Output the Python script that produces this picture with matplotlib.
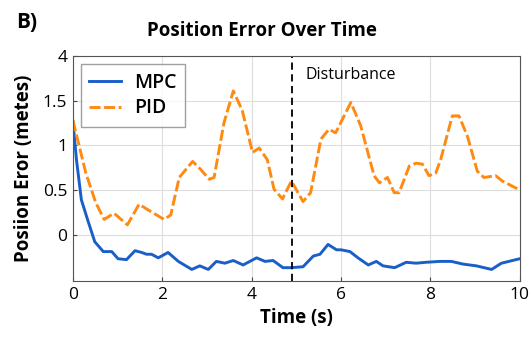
import matplotlib
matplotlib.use("Agg")
import matplotlib.pyplot as plt

pid_t = [0.0, 0.29, 0.51, 0.70, 0.92, 1.22, 1.48, 1.74, 2.04, 2.19, 2.38, 2.68, 2.86, 3.05, 3.16,
         3.38, 3.59, 3.79, 4.02, 4.17, 4.35, 4.50, 4.69, 4.89, 5.15, 5.32, 5.55, 5.73, 5.88, 6.22,
         6.44, 6.74, 6.86, 7.04, 7.19, 7.30, 7.53, 7.68, 7.82, 7.97, 8.12, 8.23, 8.49, 8.64, 8.83,
         9.05, 9.20, 9.46, 9.61, 10.0]
pid_v = [1.28, 0.69, 0.36, 0.17, 0.24, 0.11, 0.34, 0.26, 0.17, 0.22, 0.64, 0.82, 0.73, 0.62, 0.64,
         1.25, 1.61, 1.39, 0.92, 0.97, 0.84, 0.51, 0.40, 0.60, 0.37, 0.47, 1.07, 1.18, 1.14, 1.48,
         1.22, 0.66, 0.58, 0.64, 0.47, 0.47, 0.77, 0.80, 0.79, 0.66, 0.69, 0.84, 1.33, 1.33, 1.10,
         0.71, 0.64, 0.66, 0.60, 0.50]

mpc_t = [0.0, 0.08, 0.19, 0.34, 0.49, 0.68, 0.87, 1.01, 1.20, 1.39, 1.54, 1.65, 1.76, 1.91, 2.13,
         2.36, 2.66, 2.84, 3.03, 3.21, 3.40, 3.59, 3.81, 4.11, 4.30, 4.48, 4.70, 4.89, 5.15, 5.38,
         5.53, 5.71, 5.90, 6.00, 6.20, 6.38, 6.61, 6.79, 6.94, 7.20, 7.46, 7.68, 7.90, 8.21, 8.47,
         8.73, 9.03, 9.37, 9.59, 10.0]
mpc_v = [1.27, 0.84, 0.39, 0.15, -0.08, -0.19, -0.19, -0.27, -0.28, -0.18, -0.20, -0.22, -0.22, -0.26, -0.20,
         -0.30, -0.39, -0.35, -0.39, -0.30, -0.32, -0.29, -0.34, -0.26, -0.30, -0.29, -0.37, -0.37, -0.36, -0.24,
         -0.22, -0.11, -0.17, -0.17, -0.19, -0.26, -0.34, -0.30, -0.35, -0.37, -0.31, -0.32, -0.31, -0.30, -0.30,
         -0.33, -0.35, -0.39, -0.32, -0.27]

xticks = [0, 2, 4, 6, 8, 10]
yticks = [0, 0.5, 1.0, 1.5, 2.0]
ytick_labels = ["0", "0.5", "1", "1.5", "4"]
disturbance_t = 4.9

plt.rcParams['font.family'] = ['Open Sans', 'DejaVu Sans']

fig = plt.figure(figsize=(5.32, 3.44), dpi=100)
ax = fig.add_axes([0.137, 0.183, 0.840, 0.654])

ax.plot(mpc_t, mpc_v, color='#1a5fc8', lw=2.1, label='MPC')
ax.plot(pid_t, pid_v, color='#ff8a12', lw=2.1, linestyle=(0, (3.8, 1.2)), label='PID')
ax.axvline(disturbance_t, color='black', lw=1.3, linestyle=(0, (4, 2.5)))
ax.text(5.2, 1.79, 'Disturbance', fontsize=11.5, va='center', ha='left')

ax.set_xlim(0, 10)
ax.set_ylim(-0.52, 2.0)
ax.set_xticks(xticks)
ax.set_yticks(yticks)
ax.set_yticklabels(ytick_labels)
ax.tick_params(labelsize=12.5, direction='in', length=3, color='#444444', pad=4)
ax.grid(True, color='#dddddd', lw=0.8)
ax.set_axisbelow(True)
for s in ax.spines.values():
    s.set_color('#555555')

ax.set_xlabel('Time (s)', fontsize=13.5, fontweight='bold', labelpad=4)
ax.set_ylabel('Posiion Eror (metes)', fontsize=13.5, fontweight='bold', labelpad=6)

leg = ax.legend(loc='upper left', fontsize=14, frameon=True, fancybox=False,
                edgecolor='#888888', handlelength=1.6, borderaxespad=0.4,
                handletextpad=0.7, borderpad=0.45, labelspacing=0.3,
                prop={'size': 14, 'weight': 'semibold'})

fig.text(262 / 532, 1 - 31 / 344, 'Position Error Over Time', fontsize=13.5, fontweight='bold',
         ha='center', va='center')
fig.text(16 / 532, 1 - 23 / 344, 'B)', fontsize=15, fontweight='bold', ha='left', va='center')

fig.savefig('out.png', dpi=100)
